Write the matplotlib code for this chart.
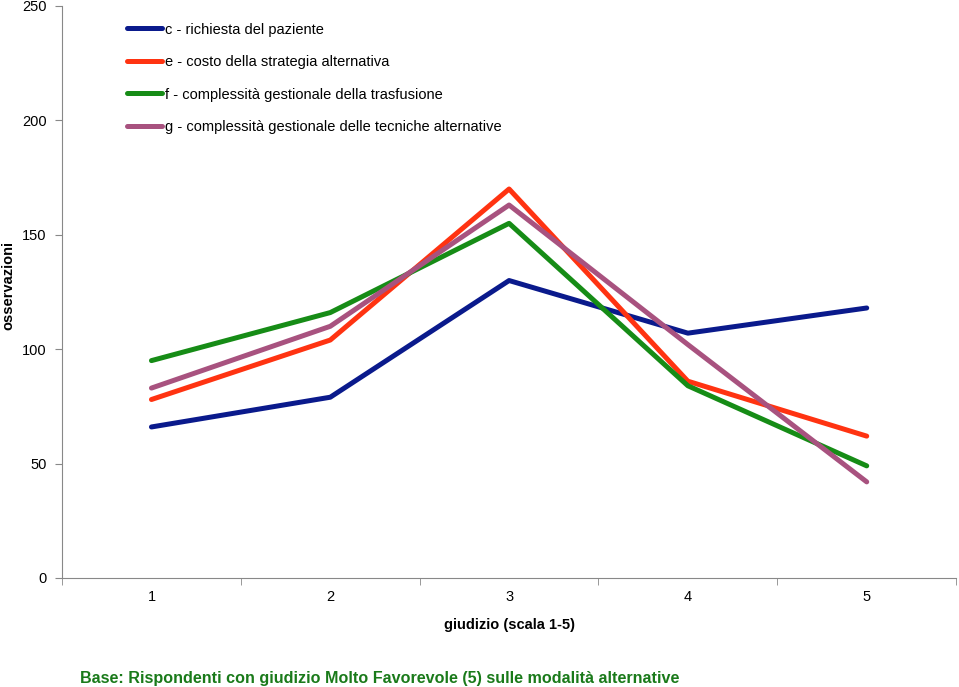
import matplotlib
matplotlib.use('Agg')
import matplotlib.pyplot as plt
import numpy as np

plt.rcParams['font.family'] = ['Liberation Sans', 'DejaVu Sans']

giudizi = [1, 2, 3, 4, 5]
serie_c = [66, 79, 130, 107, 118]
serie_e = [78, 104, 170, 86, 62]
serie_f = [95, 116, 155, 84, 49]
serie_g = [83, 110, 163, 102, 42]
etichette = ['c - richiesta del paziente',
             'e - costo della strategia alternativa',
             'f - complessità gestionale della trasfusione',
             'g - complessità gestionale delle tecniche alternative']
colori = ['#0A1A8C', '#FF3311', '#168C16', '#A8527F']

fig = plt.figure(figsize=(9.59, 6.87), dpi=100)
ax = fig.add_axes([0.0647, 0.1587, 0.9323, 0.8326])

for ys, lab, col in zip([serie_c, serie_e, serie_f, serie_g], etichette, colori):
    ax.plot(giudizi, ys, color=col, lw=3.6, label=lab, solid_capstyle='round')

ax.set_xlim(0.5, 5.5)
ax.set_ylim(0, 250)
ax.set_yticks([0, 50, 100, 150, 200, 250])
ax.set_xticks(giudizi)
ax.set_xticks(np.arange(0.5, 6, 1), minor=True)
ax.tick_params(axis='x', which='major', length=0, pad=9, labelsize=10.5)
ax.tick_params(axis='x', which='minor', length=5, color='#888888', direction='out')
ax.tick_params(axis='y', length=5, color='#888888', labelsize=10.5, pad=6)
for s in ['top', 'right']:
    ax.spines[s].set_visible(False)
for s in ['left', 'bottom']:
    ax.spines[s].set_color('#888888')

ax.set_xlabel('giudizio (scala 1-5)', fontsize=10.5, fontweight='bold', labelpad=10)
fig.text(0.009, 0.585, 'osservazioni', rotation=90, fontsize=10.5,
         fontweight='bold', ha='center', va='center')

leg = ax.legend(loc='upper left', bbox_to_anchor=(0.058, 0.994), frameon=False,
                fontsize=10.5, handlelength=2.4, handletextpad=0.2,
                labelspacing=1.27)

fig.text(0.083, 0.002, 'Base: Rispondenti con giudizio Molto Favorevole (5) sulle modalità alternative',
         color='#1A7A1A', fontsize=11.6, fontweight='bold', ha='left', va='bottom')

fig.savefig('out.png', dpi=100)
